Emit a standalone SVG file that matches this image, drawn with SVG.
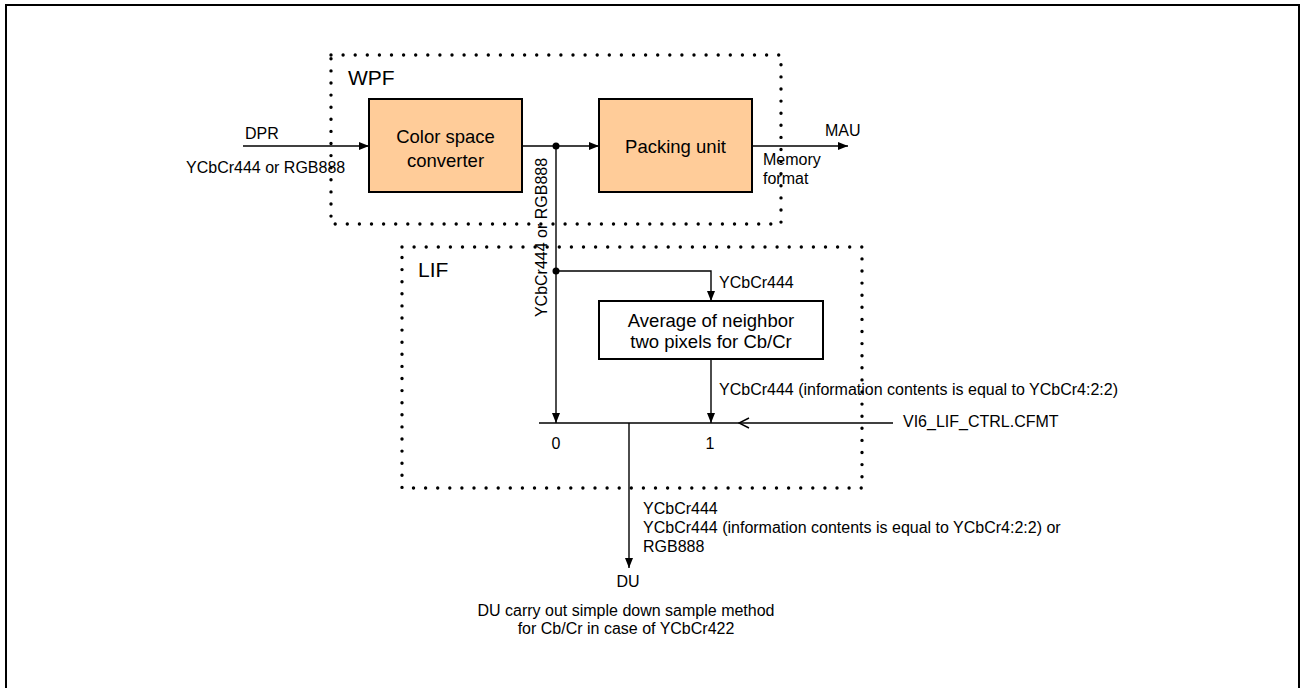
<svg xmlns="http://www.w3.org/2000/svg" width="1301" height="688" viewBox="0 0 1301 688">
<style>
text{font-family:"Liberation Sans",Arial,sans-serif;fill:#000}
.t{font-size:16px}
.b{font-size:18.5px}
.g{font-size:21px}
.ln{stroke:#000;stroke-width:1.4;fill:none}
.dot{fill:none;stroke:#000;stroke-width:3.4;stroke-linecap:round;stroke-dasharray:0 12.1}
.box{stroke:#000;stroke-width:2}
</style>
<defs>
<marker id="ar" markerWidth="10" markerHeight="8" refX="10" refY="4" orient="auto" markerUnits="userSpaceOnUse">
<path d="M0,0 L10,4 L0,8 Z" fill="#000"/>
</marker>
<marker id="op" markerWidth="12" markerHeight="12" refX="11" refY="6" orient="auto" markerUnits="userSpaceOnUse">
<path d="M1,1 L11,6 L1,11" fill="none" stroke="#000" stroke-width="1.4"/>
</marker>
</defs>
<rect x="6" y="5" width="1293" height="700" fill="none" stroke="#000" stroke-width="2"/>

<g id="wpf">
<rect class="dot" x="331" y="55" width="450" height="169"/>
<text class="g" x="348" y="85">WPF</text>
</g>
<g id="lif">
<rect class="dot" x="402" y="247" width="460" height="241"/>
<text class="g" x="418" y="277">LIF</text>
</g>

<g id="csc">
<rect class="box" x="369" y="99" width="153" height="93" fill="#FFCC99"/>
<text class="b" x="445.5" y="143" text-anchor="middle">Color space</text>
<text class="b" x="445.5" y="167" text-anchor="middle">converter</text>
</g>
<g id="packing">
<rect class="box" x="599" y="99" width="153" height="93" fill="#FFCC99"/>
<text class="b" x="675.5" y="153" text-anchor="middle">Packing unit</text>
</g>
<g id="average">
<rect class="box" x="599" y="301" width="224" height="58" fill="#fff"/>
<text class="b" x="711" y="327" text-anchor="middle">Average of neighbor</text>
<text class="b" x="711" y="348" text-anchor="middle">two pixels for Cb/Cr</text>
</g>

<g id="connectors">
<line class="ln" x1="243" y1="146" x2="369" y2="146" marker-end="url(#ar)"/>
<line class="ln" x1="522" y1="146" x2="599" y2="146" marker-end="url(#ar)"/>
<line class="ln" x1="752" y1="146" x2="848" y2="146" marker-end="url(#ar)"/>
<line class="ln" x1="556" y1="146" x2="556" y2="423" marker-end="url(#ar)"/>
<polyline class="ln" points="556,271 711,271 711,301" marker-end="url(#ar)"/>
<line class="ln" x1="711" y1="359" x2="711" y2="423" marker-end="url(#ar)"/>
<line class="ln" x1="539" y1="423" x2="739" y2="423"/>
<line class="ln" x1="893" y1="423" x2="739" y2="423" marker-end="url(#op)"/>
<line class="ln" x1="629" y1="423" x2="629" y2="568" marker-end="url(#ar)"/>
<circle cx="556" cy="146" r="3.5" fill="#000"/>
<circle cx="556" cy="271" r="3.5" fill="#000"/>
</g>

<g id="labels">
<text class="t" x="245" y="139">DPR</text>
<text class="t" x="186" y="173">YCbCr444 or RGB888</text>
<text class="t" x="825" y="136">MAU</text>
<text class="t" x="763" y="165">Memory</text>
<text class="t" x="763" y="184">format</text>
<text class="t" transform="translate(547,237.5) rotate(-90)" text-anchor="middle">YCbCr444 or RGB888</text>
<text class="t" x="719" y="288">YCbCr444</text>
<text class="t" x="719" y="395">YCbCr444 (information contents is equal to YCbCr4:2:2)</text>
<text class="t" x="903" y="427">VI6_LIF_CTRL.CFMT</text>
<text class="t" x="556" y="449" text-anchor="middle">0</text>
<text class="t" x="710" y="449" text-anchor="middle">1</text>
<text class="t" x="643" y="514">YCbCr444</text>
<text class="t" x="643" y="533">YCbCr444 (information contents is equal to YCbCr4:2:2) or</text>
<text class="t" x="643" y="552">RGB888</text>
<text class="t" x="628" y="587" text-anchor="middle">DU</text>
<text class="t" x="626" y="616" text-anchor="middle">DU carry out simple down sample method</text>
<text class="t" x="626" y="634" text-anchor="middle">for Cb/Cr in case of YCbCr422</text>
</g>
</svg>
